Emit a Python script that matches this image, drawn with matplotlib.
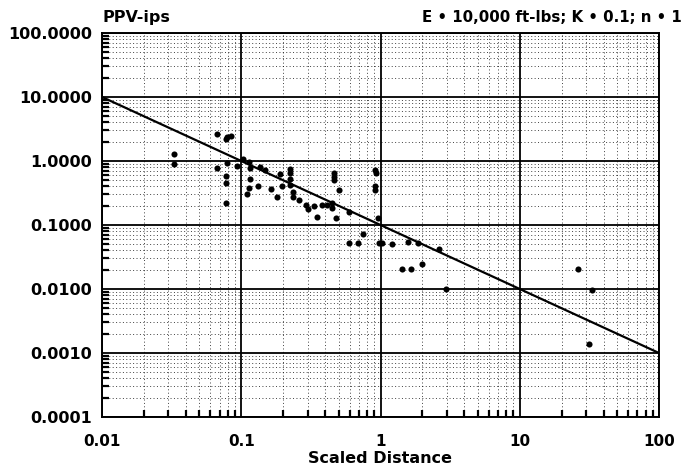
import numpy as np
import matplotlib
matplotlib.use("Agg")
import matplotlib.pyplot as plt
import matplotlib.ticker as mticker

plt.rcParams["font.family"] = ["DejaVu Sans"]
plt.rcParams["font.weight"] = "bold"

# scaled distance vs peak particle velocity (ips)
sd = [0.033, 0.033, 0.067, 0.079, 0.084, 0.078, 0.067, 0.079, 0.093, 0.103,
      0.078, 0.078, 0.078, 0.113, 0.116, 0.116, 0.113, 0.110, 0.131, 0.137,
      0.149, 0.164, 0.191, 0.180, 0.196, 0.223, 0.223, 0.223, 0.223, 0.235,
      0.235, 0.262, 0.294, 0.300, 0.331, 0.350, 0.381, 0.414, 0.450, 0.450,
      0.461, 0.461, 0.461, 0.482, 0.500, 0.590, 0.920, 0.930, 0.920, 0.920,
      0.960, 0.750, 0.590, 0.690, 0.970, 1.030, 1.210, 1.570, 1.850, 1.420,
      1.660, 2.630, 2.000, 2.970, 26.0, 33.0, 31.5]
ppv = [1.30, 0.89, 2.64, 2.40, 2.48, 2.21, 0.77, 0.92, 0.85, 1.06,
       0.58, 0.45, 0.218, 0.976, 0.77, 0.52, 0.374, 0.305, 0.41, 0.81,
       0.72, 0.36, 0.63, 0.277, 0.41, 0.74, 0.65, 0.52, 0.42, 0.33,
       0.277, 0.25, 0.205, 0.178, 0.198, 0.135, 0.205, 0.205, 0.218, 0.182,
       0.64, 0.56, 0.505, 0.127, 0.35, 0.162, 0.72, 0.64, 0.40, 0.35,
       0.13, 0.072, 0.052, 0.052, 0.052, 0.052, 0.051, 0.055, 0.052, 0.0205,
       0.0205, 0.042, 0.025, 0.010, 0.0205, 0.0096, 0.0014]

# attenuation line PPV = K * SD^-n
K = 0.1
n = 1
line_sd = np.array([0.01, 100.0])
line_ppv = K * line_sd ** (-n)

xticks = [0.01, 0.1, 1, 10, 100]
xtick_labels = ["0.01", "0.1", "1", "10", "100"]
yticks = [0.0001, 0.001, 0.01, 0.1, 1, 10, 100]


fig = plt.figure(figsize=(6.91, 4.73), dpi=100)
ax = fig.add_axes([102 / 691, 1 - 417 / 473, 557 / 691, 384 / 473])

ax.set_xscale("log")
ax.set_yscale("log")
ax.set_xlim(0.01, 100)
ax.set_ylim(0.0001, 100)

ax.plot(line_sd, line_ppv, color="black", lw=1.6, zorder=3)
ax.plot(sd, ppv, "o", color="black", ms=4.4, mew=0, zorder=4)

ax.xaxis.set_major_locator(mticker.FixedLocator(xticks))
ax.xaxis.set_major_formatter(mticker.FixedFormatter(xtick_labels))
ax.yaxis.set_major_locator(mticker.FixedLocator(yticks))
ax.yaxis.set_major_formatter(mticker.FormatStrFormatter("%.4f"))
ax.xaxis.set_minor_locator(mticker.LogLocator(base=10, subs=np.arange(2, 10), numticks=20))
ax.yaxis.set_minor_locator(mticker.LogLocator(base=10, subs=np.arange(2, 10), numticks=20))
ax.xaxis.set_minor_formatter(mticker.NullFormatter())
ax.yaxis.set_minor_formatter(mticker.NullFormatter())

ax.grid(which="major", color="black", lw=1.3, ls="-")
ax.grid(which="minor", color="black", lw=0.7, ls=(0, (1, 2.5)), alpha=0.75)

ax.tick_params(axis="both", which="major", direction="in", length=0)
ax.tick_params(axis="x", which="major", labelsize=11, pad=12)
ax.tick_params(axis="y", which="major", labelsize=11.5, pad=7)
ax.tick_params(axis="both", which="minor", direction="in", length=5, width=1.6, color="black")

for sp in ax.spines.values():
    sp.set_linewidth(1.4)
    sp.set_color("black")

ax.set_xlabel("Scaled Distance", fontsize=11.5, fontweight="bold", labelpad=2)

fig.text(103 / 691, 1 - 22 / 473, "PPV-ips", fontsize=11.5, fontweight="bold",
         ha="left", va="baseline")
fig.text(682 / 691, 1 - 22 / 473, "E \u2022 10,000 ft-lbs; K \u2022 0.1; n \u2022 1",
         fontsize=10.8, fontweight="bold", ha="right", va="baseline")

fig.savefig("out.png", dpi=100)
